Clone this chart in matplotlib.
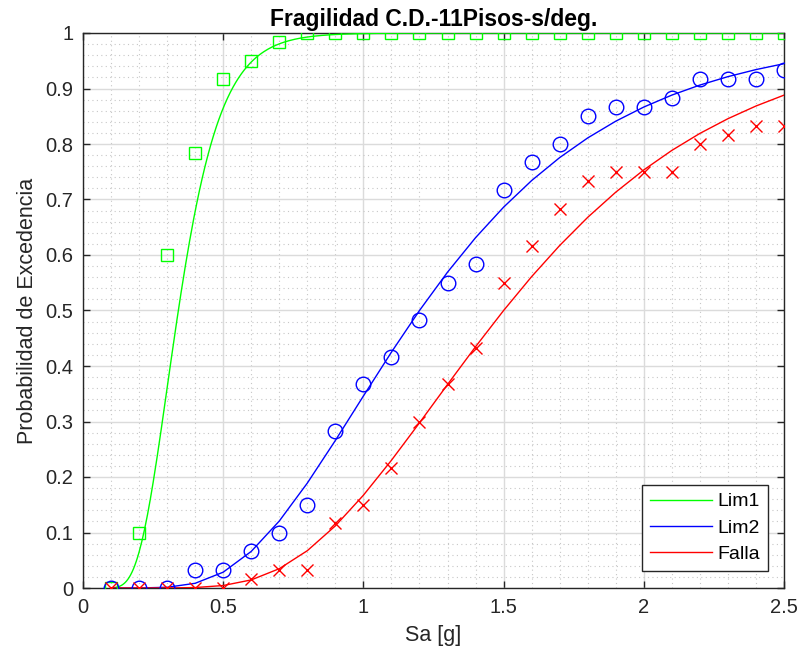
import math
import numpy as np
import matplotlib
matplotlib.use("Agg")
import matplotlib.pyplot as plt
from matplotlib.ticker import MultipleLocator, FuncFormatter

# Spectral acceleration levels (g) and observed exceedance fractions
sa = [0.1, 0.2, 0.3, 0.4, 0.5, 0.6, 0.7, 0.8, 0.9, 1.0, 1.1, 1.2, 1.3,
      1.4, 1.5, 1.6, 1.7, 1.8, 1.9, 2.0, 2.1, 2.2, 2.3, 2.4, 2.5]

lim1_obs = [0.0, 0.1, 0.6, 0.783, 0.917, 0.95, 0.983, 1.0, 1.0, 1.0, 1.0, 1.0, 1.0,
            1.0, 1.0, 1.0, 1.0, 1.0, 1.0, 1.0, 1.0, 1.0, 1.0, 1.0, 1.0]
lim2_obs = [0.0, 0.0, 0.0, 0.033, 0.033, 0.067, 0.1, 0.15, 0.283, 0.367, 0.417, 0.483,
            0.55, 0.583, 0.717, 0.767, 0.8, 0.85, 0.867, 0.867, 0.883, 0.917, 0.917,
            0.917, 0.933]
falla_obs = [0.0, 0.0, 0.0, 0.0, 0.0, 0.017, 0.033, 0.033, 0.117, 0.15, 0.217, 0.3,
             0.367, 0.433, 0.55, 0.617, 0.683, 0.733, 0.75, 0.75, 0.75, 0.8, 0.817,
             0.833, 0.833]

# Lognormal fragility fits: median (g) and log-standard deviation
labels = ["Lim1", "Lim2", "Falla"]
medians = [0.34, 1.20, 1.50]
betas = [0.35, 0.46, 0.42]


def lognorm_cdf(x, theta, beta):
    x = np.asarray(x, dtype=float)
    z = np.log(x / theta) / beta
    return 0.5 * (1.0 + np.vectorize(math.erf)(z / math.sqrt(2.0)))


plt.rcParams["font.family"] = ["Liberation Sans", "DejaVu Sans"]

fig = plt.figure(figsize=(8.03, 6.6), dpi=100)
ax = fig.add_axes([83 / 803, 72 / 660, 701 / 803, 555 / 660])

sa_fine = np.arange(0.1, 2.5001, 0.005)
sa_arr = np.array(sa)

green = (0.0, 1.0, 0.0)
blue = (0.0, 0.0, 1.0)
red = (1.0, 0.0, 0.0)

# fitted curves
l1, = ax.plot(sa_fine, lognorm_cdf(sa_fine, medians[0], betas[0]), color=green,
              lw=1.0, label=labels[0], zorder=3)
l2, = ax.plot(sa_arr, lognorm_cdf(sa_arr, medians[1], betas[1]), color=blue,
              lw=1.0, label=labels[1], zorder=3)
l3, = ax.plot(sa_arr, lognorm_cdf(sa_arr, medians[2], betas[2]), color=red,
              lw=1.0, label=labels[2], zorder=3)

# observed fractions
ax.plot(sa, lim1_obs, ls="none", marker="s", ms=8.5, mfc="none", mec=green, mew=1.0,
        zorder=4)
ax.plot(sa, lim2_obs, ls="none", marker="o", ms=10.5, mfc="none", mec=blue, mew=1.0,
        zorder=4)
ax.plot(sa, falla_obs, ls="none", marker="x", ms=8.0, mec=red, mew=1.0, zorder=4)

ax.set_xlim(0, 2.5)
ax.set_ylim(0, 1)
ax.xaxis.set_major_locator(MultipleLocator(0.5))
ax.xaxis.set_minor_locator(MultipleLocator(0.1))
ax.yaxis.set_major_locator(MultipleLocator(0.1))
ax.yaxis.set_minor_locator(MultipleLocator(0.02))
ax.xaxis.set_major_formatter(FuncFormatter(lambda v, p: f"{v:g}"))
ax.yaxis.set_major_formatter(FuncFormatter(lambda v, p: f"{v:g}"))

ax.grid(True, which="major", color=(0.86, 0.86, 0.86), lw=1.0, ls="-", zorder=0)
ax.grid(True, which="minor", color=(0.78, 0.78, 0.78), lw=0.8, ls=(0, (1, 3)), zorder=0)
ax.set_axisbelow(True)

dark = (0.15, 0.15, 0.15)
for s in ax.spines.values():
    s.set_color(dark)
    s.set_linewidth(1.0)
ax.tick_params(which="major", direction="in", length=5, width=1.0, colors=dark,
               top=True, right=True, labelsize=14.5, pad=7)
ax.tick_params(which="minor", length=0, top=True, right=True)

ax.set_xlabel("Sa [g]", fontsize=15.5, color=dark, labelpad=6)
ax.set_ylabel("Probabilidad de Excedencia", fontsize=15.5, color=dark, labelpad=5)
ax.set_title("Fragilidad C.D.-11Pisos-s/deg.", fontsize=16.5, fontweight="bold",
             color="black", pad=5)

leg = ax.legend(handles=[l1, l2, l3], loc="lower right",
                bbox_to_anchor=((768 - 83) / 701, (588 - 571) / 555),
                borderaxespad=0, fontsize=14, handlelength=3.2, handletextpad=0.3,
                labelspacing=0.45, borderpad=0.4, fancybox=False, framealpha=1,
                edgecolor=dark)
leg.get_frame().set_linewidth(1.0)

fig.savefig("out.png", dpi=100)
